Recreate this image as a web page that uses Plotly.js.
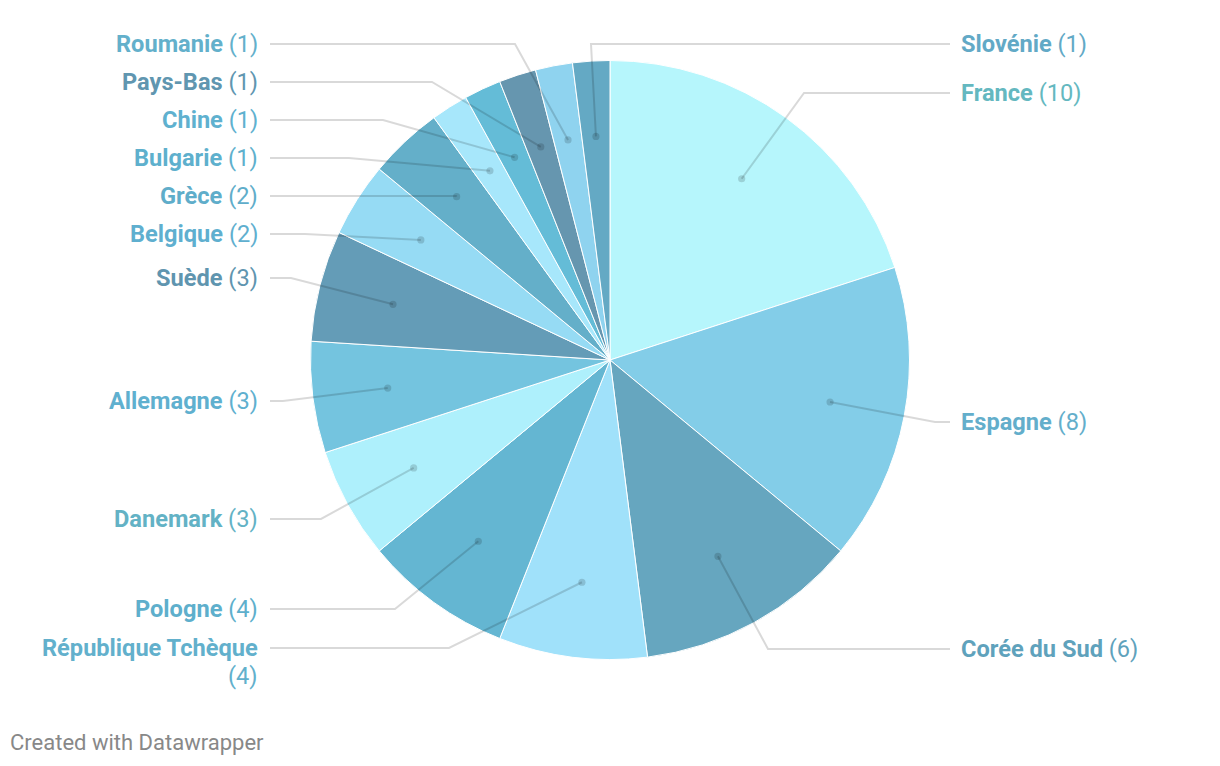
<!DOCTYPE html>
<html>
<head>
<meta charset="utf-8">
<script src="https://cdn.plot.ly/plotly-3.0.1.min.js"></script>
<style>
html,body{margin:0;padding:0;background:#fff;}
#chart{width:1220px;height:766px;}
</style>
</head>
<body>
<div id="chart"></div>
<script>
// ---- data ----
const countries = ["France","Espagne","Corée du Sud","République Tchèque","Pologne","Danemark","Allemagne","Suède","Belgique","Grèce","Bulgarie","Chine","Pays-Bas","Roumanie","Slovénie"];
const counts = [10,8,6,4,4,3,3,3,2,2,1,1,1,1,1];

// ---- styles ----
const sliceColors = ["#b6f6fc","#83cde8","#66a6bf","#a0e1fa","#64b6d2","#aef0fc","#74c4df","#649cb7","#96dbf4","#64afc9","#a7e7fb","#64bcd7","#6696af","#8fd3ef","#64a9c4"];
const labelColors = ["#64b8c0","#63aecb","#5fa2bc","#62b0cc","#5eafcc","#63b2c5","#5fb0cf","#5f95af","#5fafcf","#5fadca","#5eb0cd","#5fb1cf","#6096b0","#63b0cb","#62a9c6"];

// ---- layout (pixels) ----
const W = 1220, H = 766;
const CX = 610, CY = 360, R = 299.5;
const labelSide = ["R","R","R","L","L","L","L","L","L","L","L","L","L","L","R"];
const labelY = [93,422,649,648,609,519,401,278,234,196,158,120,82,44,44];
const elbowX = [804,935,768,449,395,321,283,291,305,456,349,383,432,515,591];
const wrapLabel = [false,false,false,true,false,false,false,false,false,false,false,false,false,false,false];
const LINE_H = 28;
const RIGHT_LINE_END = 950, RIGHT_TEXT_X = 959;
const LEFT_LINE_START = 270, LEFT_TEXT_X = 260;
const DOT_R = 0.748;
const LABEL_SIZE = 23.6;

const px = x => x / W;
const py = y => 1 - y / H;

const total = counts.reduce((a,b)=>a+b,0);
const shapes = [];
const annotations = [];
let cum = 0;
counts.forEach((v,i) => {
  const mid = (cum + v/2) / total * 2*Math.PI;
  cum += v;
  const dx = CX + R*DOT_R*Math.sin(mid);
  const dy = CY - R*DOT_R*Math.cos(mid);
  const right = labelSide[i] === "R";
  const ly = labelY[i];
  const endX = right ? RIGHT_LINE_END : LEFT_LINE_START;
  shapes.push({
    type:'path', xref:'paper', yref:'paper', layer:'above',
    path:`M ${px(dx)},${py(dy)} L ${px(elbowX[i])},${py(ly)} L ${px(endX)},${py(ly)}`,
    line:{color:'rgba(0,0,0,0.15)', width:2}
  });
  const r = 3.6;
  shapes.push({
    type:'circle', xref:'paper', yref:'paper', layer:'above',
    x0:px(dx-r), x1:px(dx+r), y0:py(dy+r), y1:py(dy-r),
    fillcolor:'rgba(0,0,0,0.15)', line:{width:0}
  });
  const base = {
    xref:'paper', yref:'paper',
    x: px(right ? RIGHT_TEXT_X : LEFT_TEXT_X),
    xanchor: right ? 'left' : 'right',
    yanchor:'middle',
    showarrow:false,
    font:{family:'Roboto, sans-serif', size:LABEL_SIZE, color:labelColors[i]}
  };
  if (wrapLabel[i]) {
    annotations.push(Object.assign({}, base, {y:py(ly), text:`<b>${countries[i]}</b>`}));
    annotations.push(Object.assign({}, base, {y:py(ly+LINE_H), text:`(${v})`}));
  } else {
    annotations.push(Object.assign({}, base, {y:py(ly), text:`<b>${countries[i]}</b> (${v})`}));
  }
});

annotations.push({
  xref:'paper', yref:'paper', x:px(8), y:py(742),
  xanchor:'left', yanchor:'middle', showarrow:false,
  text:'Created with Datawrapper',
  font:{family:'Roboto, sans-serif', size:22, color:'#888888'}
});

const trace = {
  type:'pie',
  labels: countries,
  values: counts,
  sort:false,
  direction:'clockwise',
  rotation:0,
  textinfo:'none',
  hoverinfo:'label+value',
  marker:{colors:sliceColors, line:{color:'#ffffff', width:1}},
  domain:{x:[px(CX-R), px(CX+R)], y:[py(CY+R), py(CY-R)]},
  showlegend:false
};

Plotly.newPlot('chart', [trace], {
  width:W, height:H,
  margin:{l:0,r:0,t:0,b:0},
  paper_bgcolor:'#ffffff',
  showlegend:false,
  shapes: shapes,
  annotations: annotations,
  font:{family:'Roboto, sans-serif'}
}, {displayModeBar:false, staticPlot:true});
</script>
</body>
</html>
